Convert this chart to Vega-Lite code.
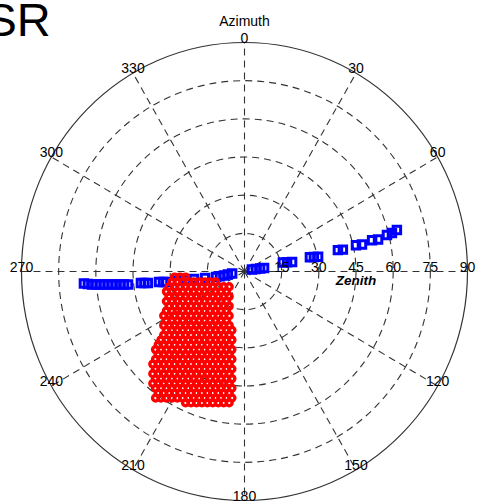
{
  "$schema": "https://vega.github.io/schema/vega-lite/v6.json",
  "width": 446,
  "height": 458,
  "autosize": {"type": "none"},
  "padding": {"left": 21.5, "top": 42.5, "right": 11.5, "bottom": 1.5},
  "config": {"view": {"stroke": null}, "font": "Liberation Sans"},
  "datasets": {
    "rings": [{"zen": 15}, {"zen": 30}, {"zen": 45}, {"zen": 60}, {"zen": 75}, {"zen": 90}],
    "spokes": [{"az": 0}, {"az": 30}, {"az": 60}, {"az": 90}, {"az": 120}, {"az": 150}, {"az": 180}, {"az": 210}, {"az": 240}, {"az": 270}, {"az": 300}, {"az": 330}],
    "labels": [
      {"t": "0", "az": 0, "zen": 90}, {"t": "30", "az": 30, "zen": 90}, {"t": "60", "az": 60, "zen": 90}, {"t": "90", "az": 90, "zen": 90},
      {"t": "120", "az": 120, "zen": 90}, {"t": "150", "az": 150, "zen": 90}, {"t": "180", "az": 180, "zen": 90}, {"t": "210", "az": 210, "zen": 90},
      {"t": "240", "az": 240, "zen": 90}, {"t": "270", "az": 270, "zen": 90}, {"t": "300", "az": 300, "zen": 90}, {"t": "330", "az": 330, "zen": 90},
      {"t": "15", "az": 90, "zen": 15}, {"t": "30", "az": 90, "zen": 30}, {"t": "45", "az": 90, "zen": 45}, {"t": "60", "az": 90, "zen": 60}, {"t": "75", "az": 90, "zen": 75}
    ],
    "blue": [
      {"e": -64.8, "n": -4.7}, {"e": -63.2, "n": -4.9}, {"e": -61.5, "n": -5.1}, {"e": -59.9, "n": -5.1}, {"e": -58.3, "n": -5.1}, {"e": -56.7, "n": -5.1},
      {"e": -55.1, "n": -5.1}, {"e": -53.5, "n": -5.1}, {"e": -51.9, "n": -5.1}, {"e": -50.2, "n": -5.1}, {"e": -48.6, "n": -5.1}, {"e": -47.0, "n": -5.1},
      {"e": -41.8, "n": -4.5}, {"e": -40.4, "n": -4.5}, {"e": -39.0, "n": -4.5},
      {"e": -34.5, "n": -4.1}, {"e": -32.9, "n": -4.1}, {"e": -31.7, "n": -4.1},
      {"e": -26.8, "n": -3.7}, {"e": -23.6, "n": -3.3}, {"e": -20.4, "n": -2.9},
      {"e": -15.9, "n": -2.6},
      {"e": -11.5, "n": -2.2}, {"e": -9.9, "n": -1.9}, {"e": -8.3, "n": -1.6}, {"e": -6.7, "n": -1.2}, {"e": -5.0, "n": -0.8},
      {"e": 3.0, "n": 0.8}, {"e": 4.6, "n": 1.0}, {"e": 6.3, "n": 1.2}, {"e": 7.9, "n": 1.4},
      {"e": 15.5, "n": 3.5}, {"e": 17.2, "n": 3.6}, {"e": 19.2, "n": 3.7},
      {"e": 26.4, "n": 5.6}, {"e": 28.0, "n": 5.7}, {"e": 29.7, "n": 5.8},
      {"e": 37.7, "n": 8.4}, {"e": 39.7, "n": 8.6},
      {"e": 45.0, "n": 10.3}, {"e": 47.4, "n": 10.6},
      {"e": 51.5, "n": 12.3}, {"e": 53.9, "n": 12.6},
      {"e": 57.5, "n": 14.3}, {"e": 59.5, "n": 15.1}, {"e": 61.5, "n": 16.3}
    ],
    "red": [
      {"e":-28.2,"n":-2.2},{"e":-26,"n":-2.2},{"e":-23.8,"n":-2.2},
      {"e":-29.3,"n":-4.1},{"e":-27.1,"n":-4.1},{"e":-24.9,"n":-4.1},{"e":-22.7,"n":-4.1},{"e":-20.5,"n":-4.1},{"e":-18.3,"n":-4.1},{"e":-16.1,"n":-4.1},{"e":-13.9,"n":-4.1},{"e":-11.7,"n":-4.1},
      {"e":-30.4,"n":-6},{"e":-28.2,"n":-6},{"e":-26,"n":-6},{"e":-23.8,"n":-6},{"e":-21.6,"n":-6},{"e":-19.4,"n":-6},{"e":-17.2,"n":-6},{"e":-15,"n":-6},{"e":-12.8,"n":-6},{"e":-10.6,"n":-6},{"e":-8.4,"n":-6},{"e":-6.2,"n":-6},
      {"e":-31.5,"n":-7.9},{"e":-29.3,"n":-7.9},{"e":-27.1,"n":-7.9},{"e":-24.9,"n":-7.9},{"e":-22.7,"n":-7.9},{"e":-20.5,"n":-7.9},{"e":-18.3,"n":-7.9},{"e":-16.1,"n":-7.9},{"e":-13.9,"n":-7.9},{"e":-11.7,"n":-7.9},{"e":-9.5,"n":-7.9},{"e":-7.3,"n":-7.9},
      {"e":-30.4,"n":-9.8},{"e":-28.2,"n":-9.8},{"e":-26,"n":-9.8},{"e":-23.8,"n":-9.8},{"e":-21.6,"n":-9.8},{"e":-19.4,"n":-9.8},{"e":-17.2,"n":-9.8},{"e":-15,"n":-9.8},{"e":-12.8,"n":-9.8},{"e":-10.6,"n":-9.8},{"e":-8.4,"n":-9.8},{"e":-6.2,"n":-9.8},
      {"e":-31.5,"n":-11.7},{"e":-29.3,"n":-11.7},{"e":-27.1,"n":-11.7},{"e":-24.9,"n":-11.7},{"e":-22.7,"n":-11.7},{"e":-20.5,"n":-11.7},{"e":-18.3,"n":-11.7},{"e":-16.1,"n":-11.7},{"e":-13.9,"n":-11.7},{"e":-11.7,"n":-11.7},{"e":-9.5,"n":-11.7},{"e":-7.3,"n":-11.7},
      {"e":-30.4,"n":-13.6},{"e":-28.2,"n":-13.6},{"e":-26,"n":-13.6},{"e":-23.8,"n":-13.6},{"e":-21.6,"n":-13.6},{"e":-19.4,"n":-13.6},{"e":-17.2,"n":-13.6},{"e":-15,"n":-13.6},{"e":-12.8,"n":-13.6},{"e":-10.6,"n":-13.6},{"e":-8.4,"n":-13.6},{"e":-6.2,"n":-13.6},
      {"e":-31.5,"n":-15.5},{"e":-29.3,"n":-15.5},{"e":-27.1,"n":-15.5},{"e":-24.9,"n":-15.5},{"e":-22.7,"n":-15.5},{"e":-20.5,"n":-15.5},{"e":-18.3,"n":-15.5},{"e":-16.1,"n":-15.5},{"e":-13.9,"n":-15.5},{"e":-11.7,"n":-15.5},{"e":-9.5,"n":-15.5},{"e":-7.3,"n":-15.5},
      {"e":-32.6,"n":-17.4},{"e":-30.4,"n":-17.4},{"e":-28.2,"n":-17.4},{"e":-26,"n":-17.4},{"e":-23.8,"n":-17.4},{"e":-21.6,"n":-17.4},{"e":-19.4,"n":-17.4},{"e":-17.2,"n":-17.4},{"e":-15,"n":-17.4},{"e":-12.8,"n":-17.4},{"e":-10.6,"n":-17.4},{"e":-8.4,"n":-17.4},{"e":-6.2,"n":-17.4},
      {"e":-31.5,"n":-19.3},{"e":-29.3,"n":-19.3},{"e":-27.1,"n":-19.3},{"e":-24.9,"n":-19.3},{"e":-22.7,"n":-19.3},{"e":-20.5,"n":-19.3},{"e":-18.3,"n":-19.3},{"e":-16.1,"n":-19.3},{"e":-13.9,"n":-19.3},{"e":-11.7,"n":-19.3},{"e":-9.5,"n":-19.3},{"e":-7.3,"n":-19.3},
      {"e":-32.6,"n":-21.2},{"e":-30.4,"n":-21.2},{"e":-28.2,"n":-21.2},{"e":-26,"n":-21.2},{"e":-23.8,"n":-21.2},{"e":-21.6,"n":-21.2},{"e":-19.4,"n":-21.2},{"e":-17.2,"n":-21.2},{"e":-15,"n":-21.2},{"e":-12.8,"n":-21.2},{"e":-10.6,"n":-21.2},{"e":-8.4,"n":-21.2},{"e":-6.2,"n":-21.2},
      {"e":-31.5,"n":-23.1},{"e":-29.3,"n":-23.1},{"e":-27.1,"n":-23.1},{"e":-24.9,"n":-23.1},{"e":-22.7,"n":-23.1},{"e":-20.5,"n":-23.1},{"e":-18.3,"n":-23.1},{"e":-16.1,"n":-23.1},{"e":-13.9,"n":-23.1},{"e":-11.7,"n":-23.1},{"e":-9.5,"n":-23.1},{"e":-7.3,"n":-23.1},{"e":-5.1,"n":-23.1},
      {"e":-32.6,"n":-25},{"e":-30.4,"n":-25},{"e":-28.2,"n":-25},{"e":-26,"n":-25},{"e":-23.8,"n":-25},{"e":-21.6,"n":-25},{"e":-19.4,"n":-25},{"e":-17.2,"n":-25},{"e":-15,"n":-25},{"e":-12.8,"n":-25},{"e":-10.6,"n":-25},{"e":-8.4,"n":-25},{"e":-6.2,"n":-25},
      {"e":-33.7,"n":-26.9},{"e":-31.5,"n":-26.9},{"e":-29.3,"n":-26.9},{"e":-27.1,"n":-26.9},{"e":-24.9,"n":-26.9},{"e":-22.7,"n":-26.9},{"e":-20.5,"n":-26.9},{"e":-18.3,"n":-26.9},{"e":-16.1,"n":-26.9},{"e":-13.9,"n":-26.9},{"e":-11.7,"n":-26.9},{"e":-9.5,"n":-26.9},{"e":-7.3,"n":-26.9},{"e":-5.1,"n":-26.9},
      {"e":-34.8,"n":-28.8},{"e":-32.6,"n":-28.8},{"e":-30.4,"n":-28.8},{"e":-28.2,"n":-28.8},{"e":-26,"n":-28.8},{"e":-23.8,"n":-28.8},{"e":-21.6,"n":-28.8},{"e":-19.4,"n":-28.8},{"e":-17.2,"n":-28.8},{"e":-15,"n":-28.8},{"e":-12.8,"n":-28.8},{"e":-10.6,"n":-28.8},{"e":-8.4,"n":-28.8},{"e":-6.2,"n":-28.8},
      {"e":-35.9,"n":-30.7},{"e":-33.7,"n":-30.7},{"e":-31.5,"n":-30.7},{"e":-29.3,"n":-30.7},{"e":-27.1,"n":-30.7},{"e":-24.9,"n":-30.7},{"e":-22.7,"n":-30.7},{"e":-20.5,"n":-30.7},{"e":-18.3,"n":-30.7},{"e":-16.1,"n":-30.7},{"e":-13.9,"n":-30.7},{"e":-11.7,"n":-30.7},{"e":-9.5,"n":-30.7},{"e":-7.3,"n":-30.7},{"e":-5.1,"n":-30.7},
      {"e":-34.8,"n":-32.6},{"e":-32.6,"n":-32.6},{"e":-30.4,"n":-32.6},{"e":-28.2,"n":-32.6},{"e":-26,"n":-32.6},{"e":-23.8,"n":-32.6},{"e":-21.6,"n":-32.6},{"e":-19.4,"n":-32.6},{"e":-17.2,"n":-32.6},{"e":-15,"n":-32.6},{"e":-12.8,"n":-32.6},{"e":-10.6,"n":-32.6},{"e":-8.4,"n":-32.6},{"e":-6.2,"n":-32.6},
      {"e":-35.9,"n":-34.5},{"e":-33.7,"n":-34.5},{"e":-31.5,"n":-34.5},{"e":-29.3,"n":-34.5},{"e":-27.1,"n":-34.5},{"e":-24.9,"n":-34.5},{"e":-22.7,"n":-34.5},{"e":-20.5,"n":-34.5},{"e":-18.3,"n":-34.5},{"e":-16.1,"n":-34.5},{"e":-13.9,"n":-34.5},{"e":-11.7,"n":-34.5},{"e":-9.5,"n":-34.5},{"e":-7.3,"n":-34.5},{"e":-5.1,"n":-34.5},
      {"e":-37,"n":-36.4},{"e":-34.8,"n":-36.4},{"e":-32.6,"n":-36.4},{"e":-30.4,"n":-36.4},{"e":-28.2,"n":-36.4},{"e":-26,"n":-36.4},{"e":-23.8,"n":-36.4},{"e":-21.6,"n":-36.4},{"e":-19.4,"n":-36.4},{"e":-17.2,"n":-36.4},{"e":-15,"n":-36.4},{"e":-12.8,"n":-36.4},{"e":-10.6,"n":-36.4},{"e":-8.4,"n":-36.4},{"e":-6.2,"n":-36.4},
      {"e":-35.9,"n":-38.3},{"e":-33.7,"n":-38.3},{"e":-31.5,"n":-38.3},{"e":-29.3,"n":-38.3},{"e":-27.1,"n":-38.3},{"e":-24.9,"n":-38.3},{"e":-22.7,"n":-38.3},{"e":-20.5,"n":-38.3},{"e":-18.3,"n":-38.3},{"e":-16.1,"n":-38.3},{"e":-13.9,"n":-38.3},{"e":-11.7,"n":-38.3},{"e":-9.5,"n":-38.3},{"e":-7.3,"n":-38.3},{"e":-5.1,"n":-38.3},
      {"e":-37,"n":-40.2},{"e":-34.8,"n":-40.2},{"e":-32.6,"n":-40.2},{"e":-30.4,"n":-40.2},{"e":-28.2,"n":-40.2},{"e":-26,"n":-40.2},{"e":-23.8,"n":-40.2},{"e":-21.6,"n":-40.2},{"e":-19.4,"n":-40.2},{"e":-17.2,"n":-40.2},{"e":-15,"n":-40.2},{"e":-12.8,"n":-40.2},{"e":-10.6,"n":-40.2},{"e":-8.4,"n":-40.2},{"e":-6.2,"n":-40.2},
      {"e":-35.9,"n":-42.1},{"e":-33.7,"n":-42.1},{"e":-31.5,"n":-42.1},{"e":-29.3,"n":-42.1},{"e":-27.1,"n":-42.1},{"e":-24.9,"n":-42.1},{"e":-22.7,"n":-42.1},{"e":-20.5,"n":-42.1},{"e":-18.3,"n":-42.1},{"e":-16.1,"n":-42.1},{"e":-13.9,"n":-42.1},{"e":-11.7,"n":-42.1},{"e":-9.5,"n":-42.1},{"e":-7.3,"n":-42.1},{"e":-5.1,"n":-42.1},
      {"e":-37,"n":-44},{"e":-34.8,"n":-44},{"e":-32.6,"n":-44},{"e":-30.4,"n":-44},{"e":-28.2,"n":-44},{"e":-26,"n":-44},{"e":-23.8,"n":-44},{"e":-21.6,"n":-44},{"e":-19.4,"n":-44},{"e":-17.2,"n":-44},{"e":-15,"n":-44},{"e":-12.8,"n":-44},{"e":-10.6,"n":-44},{"e":-8.4,"n":-44},{"e":-6.2,"n":-44},
      {"e":-35.9,"n":-45.9},{"e":-33.7,"n":-45.9},{"e":-31.5,"n":-45.9},{"e":-29.3,"n":-45.9},{"e":-27.1,"n":-45.9},{"e":-24.9,"n":-45.9},{"e":-22.7,"n":-45.9},{"e":-20.5,"n":-45.9},{"e":-18.3,"n":-45.9},{"e":-16.1,"n":-45.9},{"e":-13.9,"n":-45.9},{"e":-11.7,"n":-45.9},{"e":-9.5,"n":-45.9},{"e":-7.3,"n":-45.9},{"e":-5.1,"n":-45.9},
      {"e":-34.8,"n":-47.8},{"e":-32.6,"n":-47.8},{"e":-30.4,"n":-47.8},{"e":-28.2,"n":-47.8},{"e":-26,"n":-47.8},{"e":-23.8,"n":-47.8},{"e":-21.6,"n":-47.8},{"e":-19.4,"n":-47.8},{"e":-17.2,"n":-47.8},{"e":-15,"n":-47.8},{"e":-12.8,"n":-47.8},{"e":-10.6,"n":-47.8},{"e":-8.4,"n":-47.8},{"e":-6.2,"n":-47.8},
      {"e":-35.9,"n":-49.7},{"e":-33.7,"n":-49.7},{"e":-31.5,"n":-49.7},{"e":-29.3,"n":-49.7},{"e":-27.1,"n":-49.7},{"e":-24.9,"n":-49.7},{"e":-22.7,"n":-49.7},{"e":-20.5,"n":-49.7},{"e":-18.3,"n":-49.7},{"e":-16.1,"n":-49.7},{"e":-13.9,"n":-49.7},{"e":-11.7,"n":-49.7},{"e":-9.5,"n":-49.7},{"e":-7.3,"n":-49.7},{"e":-5.1,"n":-49.7},
      {"e":-23.8,"n":-51.6},{"e":-21.6,"n":-51.6},{"e":-19.4,"n":-51.6},{"e":-17.2,"n":-51.6},{"e":-15,"n":-51.6},{"e":-12.8,"n":-51.6},{"e":-10.6,"n":-51.6},{"e":-8.4,"n":-51.6},{"e":-6.2,"n":-51.6}
    ]
  },
  "layer": [
    {
      "data": {"name": "rings"},
      "transform": [{"filter": "datum.zen < 90"}, {"calculate": "0", "as": "c"}],
      "mark": {"type": "point", "shape": "M1,0C1,0.5671,0.5523,1.0269,0,1.0269C-0.5523,1.0269,-1,0.5671,-1,0C-1,-0.5671,-0.5523,-1.0269,0,-1.0269C0.5523,-1.0269,1,-0.5671,1,0Z", "filled": false, "color": "#333333", "strokeWidth": 1.1, "strokeDash": [7, 5], "opacity": 1},
      "encoding": {
        "x": {"field": "c", "type": "quantitative", "scale": {"domain": [-90, 90], "nice": false, "zero": false}, "axis": null},
        "y": {"field": "c", "type": "quantitative", "scale": {"domain": [-90, 90], "nice": false, "zero": false}, "axis": null},
        "size": {"field": "zen", "type": "quantitative", "scale": {"type": "pow", "exponent": 2, "domain": [0, 90], "range": [0, 198916]}, "legend": null}
      }
    },
    {
      "data": {"name": "rings"},
      "transform": [{"filter": "datum.zen == 90"}, {"calculate": "0", "as": "c"}],
      "mark": {"type": "point", "shape": "M1,0C1,0.5671,0.5523,1.0269,0,1.0269C-0.5523,1.0269,-1,0.5671,-1,0C-1,-0.5671,-0.5523,-1.0269,0,-1.0269C0.5523,-1.0269,1,-0.5671,1,0Z", "filled": false, "color": "#333333", "strokeWidth": 1.2, "opacity": 1},
      "encoding": {
        "x": {"field": "c", "type": "quantitative"},
        "y": {"field": "c", "type": "quantitative"},
        "size": {"field": "zen", "type": "quantitative", "scale": {"type": "pow", "exponent": 2, "domain": [0, 90], "range": [0, 198916]}, "legend": null}
      }
    },
    {
      "data": {"name": "spokes"},
      "transform": [
        {"calculate": "0", "as": "c"},
        {"calculate": "90*sin(datum.az*PI/180)", "as": "ex"},
        {"calculate": "90*cos(datum.az*PI/180)", "as": "ny"}
      ],
      "mark": {"type": "rule", "color": "#333333", "strokeWidth": 1.1, "strokeDash": [7, 5]},
      "encoding": {
        "x": {"field": "c", "type": "quantitative"},
        "y": {"field": "c", "type": "quantitative"},
        "x2": {"field": "ex"},
        "y2": {"field": "ny"}
      }
    },
    {
      "data": {"name": "blue"},
      "mark": {"type": "point", "shape": "square", "filled": false, "color": "#0000ff", "size": 56, "strokeWidth": 3, "opacity": 1},
      "encoding": {
        "x": {"field": "e", "type": "quantitative"},
        "y": {"field": "n", "type": "quantitative"}
      }
    },
    {
      "data": {"name": "red"},
      "mark": {"type": "point", "shape": "circle", "filled": false, "color": "#ff0000", "size": 36, "strokeWidth": 3.4, "opacity": 1},
      "encoding": {
        "x": {"field": "e", "type": "quantitative"},
        "y": {"field": "n", "type": "quantitative"}
      }
    },
    {
      "data": {"name": "labels"},
      "transform": [
        {"calculate": "datum.zen*sin(datum.az*PI/180)", "as": "lx"},
        {"calculate": "datum.zen*cos(datum.az*PI/180)", "as": "ly"}
      ],
      "mark": {"type": "text", "font": "Liberation Sans", "fontSize": 14, "color": "black", "align": "center", "baseline": "alphabetic"},
      "encoding": {
        "x": {"field": "lx", "type": "quantitative"},
        "y": {"field": "ly", "type": "quantitative"},
        "text": {"field": "t"}
      }
    },
    {
      "data": {"values": [{"t": "Azimuth", "lx": 0, "ly": 90}]},
      "mark": {"type": "text", "font": "Liberation Sans", "fontSize": 14, "color": "black", "align": "center", "baseline": "alphabetic", "dy": -16.5},
      "encoding": {
        "x": {"field": "lx", "type": "quantitative"},
        "y": {"field": "ly", "type": "quantitative"},
        "text": {"field": "t"}
      }
    },
    {
      "data": {"values": [{"t": "Zenith", "lx": 45, "ly": 0}]},
      "mark": {"type": "text", "font": "Liberation Sans", "fontSize": 13.5, "fontWeight": "bold", "fontStyle": "italic", "color": "black", "align": "center", "baseline": "alphabetic", "dy": 13.5},
      "encoding": {
        "x": {"field": "lx", "type": "quantitative"},
        "y": {"field": "ly", "type": "quantitative"},
        "text": {"field": "t"}
      }
    },
    {
      "data": {"values": [{"t": "SR", "lx": -78.2, "ly": 92.55}]},
      "mark": {"type": "text", "font": "Liberation Sans Narrow, Liberation Sans", "fontSize": 47, "color": "black", "align": "right", "baseline": "alphabetic"},
      "encoding": {
        "x": {"field": "lx", "type": "quantitative"},
        "y": {"field": "ly", "type": "quantitative"},
        "text": {"field": "t"}
      }
    }
  ]
}
